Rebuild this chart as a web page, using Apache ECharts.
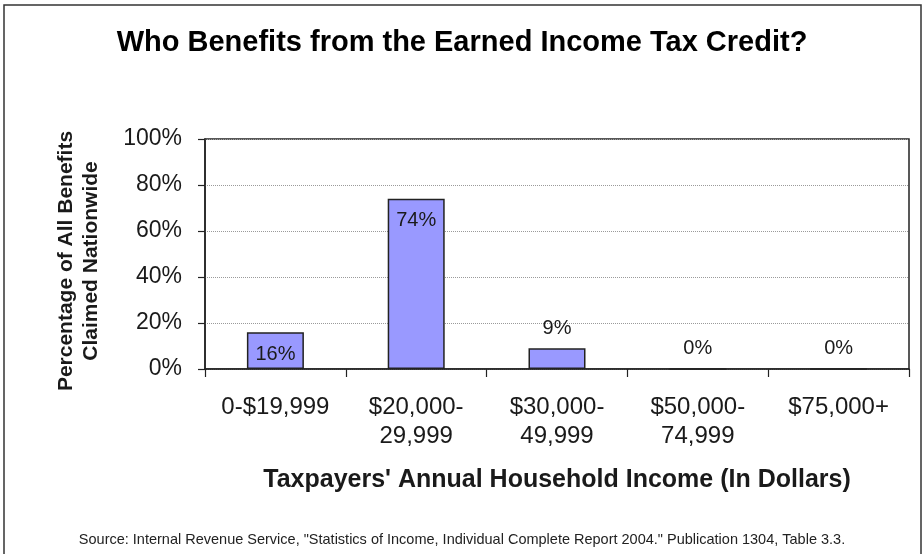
<!DOCTYPE html>
<html>
<head>
<meta charset="utf-8">
<script src="https://cdn.jsdelivr.net/npm/echarts@6/dist/echarts.min.js"></script>
<style>
  html, body { margin: 0; padding: 0; background: #fff; }
  #chart { width: 924px; height: 554px; }
</style>
</head>
<body>
<div id="chart"></div>
<script>
// Income brackets and the share of EITC benefits each one claims
const incomeBrackets = ['0-$19,999', '$20,000-\n29,999', '$30,000-\n49,999', '$50,000-\n74,999', '$75,000+'];
const benefitShare = [16, 74, 9, 0, 0];
const percentTicks = [0, 20, 40, 60, 80, 100];

const FONT = '"Liberation Sans", Arial, sans-serif';
const INK = '#1a1a1a';

const chart = echarts.init(document.getElementById('chart'), null, { renderer: 'canvas' });

// Tall bars carry their value inside the top edge, short ones just above it
const barData = benefitShare.map(v => ({
  value: v,
  label: v >= 12
    ? { position: 'insideTop', distance: 12 }
    : { position: 'top', distance: 10 }
}));

chart.setOption({
  animation: false,
  backgroundColor: '#fff',
  title: [{
    text: 'Who Benefits from the Earned Income Tax Credit?',
    left: 'center',
    top: 23,
    textStyle: { fontFamily: FONT, fontSize: 29, fontWeight: 'bold', color: '#000' }
  }, {
    text: 'Source: Internal Revenue Service, "Statistics of Income, Individual Complete Report 2004." Publication 1304, Table 3.3.',
    left: 'center',
    top: 527,
    textStyle: { fontFamily: FONT, fontSize: 14.5, fontWeight: 'normal', color: '#222' }
  }],
  graphic: [{
    type: 'rect',
    shape: { x: 4, y: 5, width: 917, height: 560 },
    style: { fill: 'none', stroke: '#333', lineWidth: 1.5 },
    silent: true
  }],
  grid: {
    left: 205, right: 15, top: 139, bottom: 185,
    show: true, borderColor: '#222', borderWidth: 1.5, backgroundColor: 'transparent'
  },
  xAxis: {
    type: 'category',
    data: incomeBrackets,
    name: "Taxpayers' Annual Household Income (In Dollars)",
    nameLocation: 'middle',
    nameGap: 99,
    nameTextStyle: { fontFamily: FONT, fontSize: 25, fontWeight: 'bold', color: INK },
    axisLine: { lineStyle: { color: '#222', width: 1.5 } },
    axisTick: { show: true, length: 8, inside: false, lineStyle: { color: '#222', width: 1.2 } },
    axisLabel: { fontFamily: FONT, fontSize: 24, color: INK, margin: 24, lineHeight: 29 },
    splitLine: { show: false }
  },
  yAxis: {
    type: 'value',
    min: 0, max: 100, interval: 20,
    name: 'Percentage of All Benefits\nClaimed Nationwide',
    nameLocation: 'middle',
    nameRotate: 90,
    nameGap: 101,
    nameTextStyle: {
      fontFamily: FONT, fontSize: 21, fontWeight: 'bold', color: INK, lineHeight: 25,
      padding: [0, 14, 0, 0]
    },
    axisLine: { show: true, lineStyle: { color: '#222', width: 1.5 } },
    axisTick: { show: true, length: 7, inside: false, lineStyle: { color: '#222', width: 1.2 } },
    axisLabel: {
      fontFamily: FONT, fontSize: 23, color: INK, margin: 23,
      formatter: v => percentTicks.includes(v) ? v + '%' : ''
    },
    splitLine: { show: true, lineStyle: { color: '#9a9a9a', type: 'dotted', width: 1 } }
  },
  series: [{
    type: 'bar',
    data: barData,
    barWidth: 57,
    itemStyle: { color: '#9999ff', borderColor: '#222', borderWidth: 1.5 },
    label: {
      show: true,
      formatter: p => p.value + '%',
      fontFamily: FONT, fontSize: 20, color: INK
    }
  }]
});
</script>
</body>
</html>
